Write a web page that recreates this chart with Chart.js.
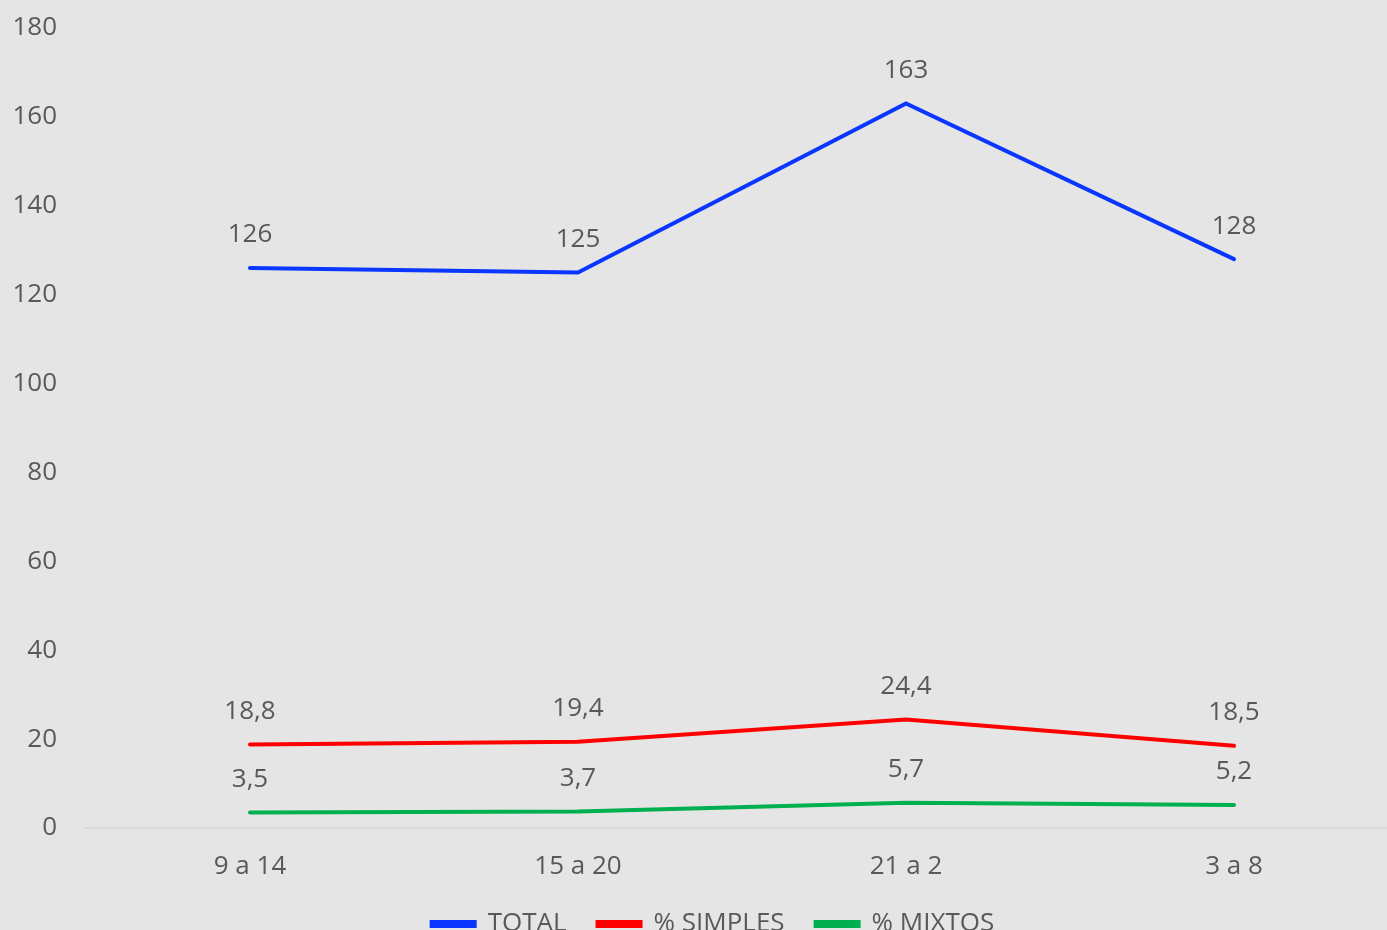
<!DOCTYPE html>
<html>
<head>
<meta charset="utf-8">
<script src="https://cdn.jsdelivr.net/npm/chart.js@4"></script>
<style>
  html, body { margin: 0; padding: 0; background: #e5e5e5; overflow: hidden; }
  #wrap { width: 1426px; height: 947px; }
</style>
</head>
<body>
<div id="wrap"><canvas id="miGrafico"></canvas></div>
<script>
var franjas = ['9 a 14', '15 a 20', '21 a 2', '3 a 8'];
var total = [126, 125, 163, 128];
var simples = [18.8, 19.4, 24.4, 18.5];
var mixtos = [3.5, 3.7, 5.7, 5.2];
var ticksY = [0, 20, 40, 60, 80, 100, 120, 140, 160, 180];

var gris = '#595959';
var fuente = { family: 'Open Sans', size: 26 };

// etiquetas encima de cada punto
var etiquetas = {
    id: 'etiquetas',
    afterLayout: function(chart) {
        // la leyenda del original va un poco a la derecha del centro
        chart.legend.left += 14;
        chart.legend.right += 14;
    },
    afterDatasetsDraw: function(chart) {
        var ctx = chart.ctx;
        ctx.save();
        ctx.font = '26px "Open Sans"';
        ctx.fillStyle = gris;
        ctx.textAlign = 'center';
        ctx.textBaseline = 'middle';
        chart.data.datasets.forEach(function(ds, i) {
            var meta = chart.getDatasetMeta(i);
            meta.data.forEach(function(pt, j) {
                var txt = String(ds.data[j]).replace('.', ',');
                ctx.fillText(txt, pt.x, pt.y - 33);
            });
        });
        ctx.restore();
    }
};

var mostrar = document.getElementById('miGrafico');

var grafico = new Chart(mostrar, {
    type: 'line',
    data: {
        labels: franjas,
        datasets: [
            { label: 'TOTAL', data: total, borderColor: '#0a36ff', backgroundColor: '#0a36ff' },
            { label: '% SIMPLES', data: simples, borderColor: '#ff0000', backgroundColor: '#ff0000' },
            { label: '% MIXTOS', data: mixtos, borderColor: '#00b050', backgroundColor: '#00b050' }
        ]
    },
    options: {
        responsive: true,
        maintainAspectRatio: false,
        animation: false,
        elements: {
            line: { borderWidth: 4, tension: 0, fill: false, borderCapStyle: 'round' },
            point: { radius: 0, hoverRadius: 0 }
        },
        layout: { padding: { top: 28, right: 28, left: 0, bottom: 0 } },
        scales: {
            x: {
                offset: true,
                grid: { display: false, drawTicks: false },
                border: { display: true, color: '#d9d9d9', width: 2 },
                ticks: { color: gris, font: fuente, padding: 23 },
                afterFit: function(s) { s.height = 52; }
            },
            y: {
                min: 0,
                max: 180,
                afterBuildTicks: function(s) { s.ticks = ticksY.map(function(v) { return { value: v }; }); },
                grid: { display: false, drawTicks: false },
                border: { display: false },
                ticks: { color: gris, font: fuente, padding: 29 },
                afterFit: function(s) { s.width = 86; s.paddingTop = 0; s.paddingBottom = 0; }
            }
        },
        plugins: {
            legend: {
                position: 'bottom',
                labels: {
                    color: gris,
                    font: fuente,
                    boxWidth: 43,
                    boxHeight: 4,
                    padding: 31
                }
            },
            tooltip: { enabled: false }
        }
    },
    plugins: [etiquetas]
});
</script>
</body>
</html>
